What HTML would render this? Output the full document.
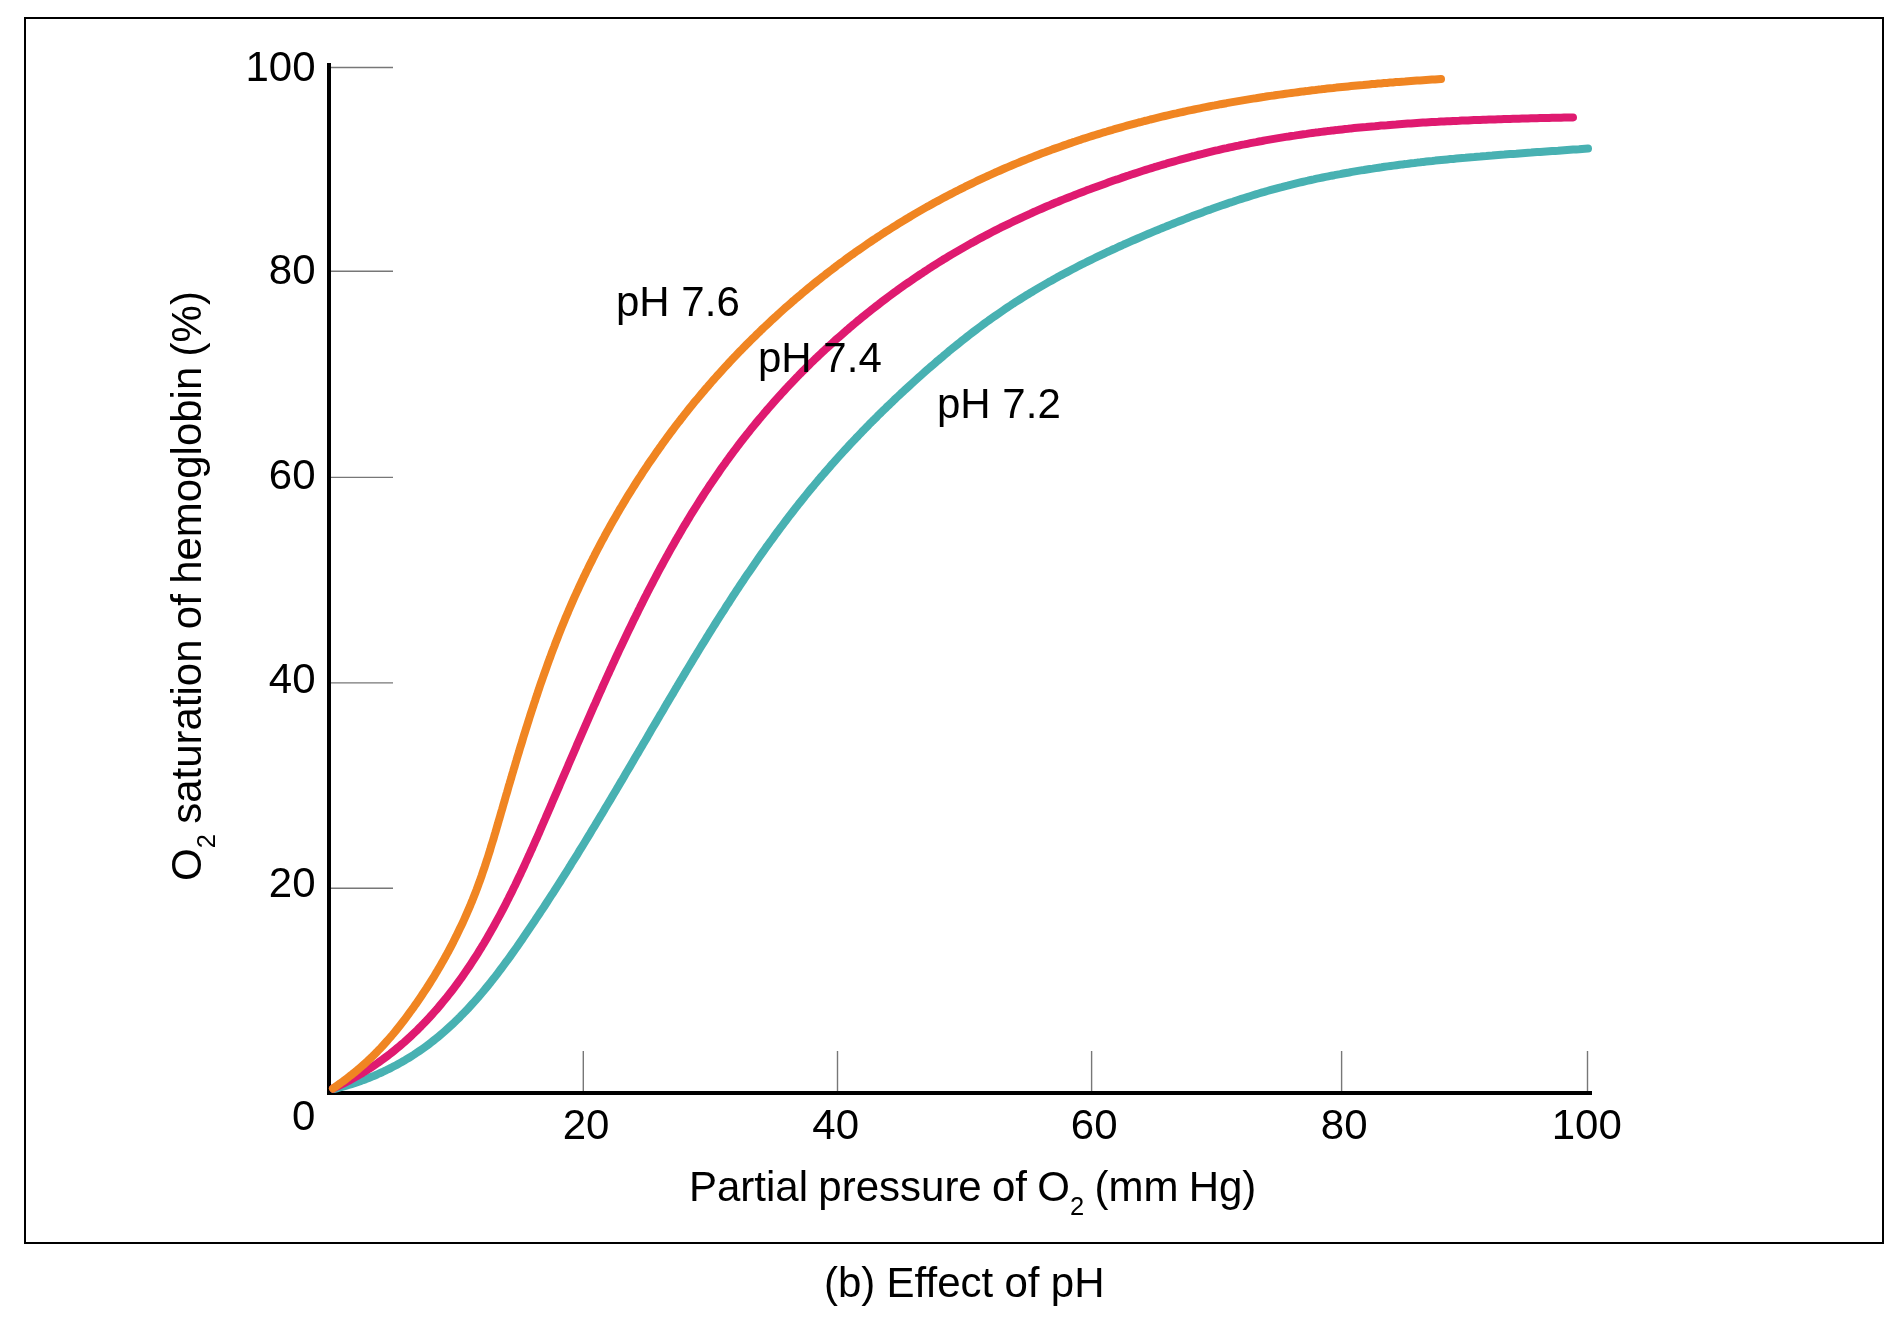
<!DOCTYPE html>
<html><head><meta charset="utf-8"><title>Effect of pH</title>
<style>
html,body{margin:0;padding:0;background:#fff;}
body{width:1900px;height:1317px;overflow:hidden;}
svg{display:block;will-change:transform;}
text{font-family:"Liberation Sans", sans-serif;font-size:42px;fill:#000;}
</style></head>
<body>
<svg width="1900" height="1317" viewBox="0 0 1900 1317">
<rect width="1900" height="1317" fill="#fff"/>
<rect x="25" y="18" width="1858" height="1225" fill="none" stroke="#000" stroke-width="2"/>
<line x1="331" y1="67.5" x2="393" y2="67.5" stroke="#777" stroke-width="1.4"/>
<line x1="331" y1="271.3" x2="393" y2="271.3" stroke="#777" stroke-width="1.4"/>
<line x1="331" y1="477.4" x2="393" y2="477.4" stroke="#777" stroke-width="1.4"/>
<line x1="331" y1="682.9" x2="393" y2="682.9" stroke="#777" stroke-width="1.4"/>
<line x1="331" y1="888.3" x2="393" y2="888.3" stroke="#777" stroke-width="1.4"/>
<line x1="583.3" y1="1051" x2="583.3" y2="1091" stroke="#777" stroke-width="1.4"/>
<line x1="837.5" y1="1051" x2="837.5" y2="1091" stroke="#777" stroke-width="1.4"/>
<line x1="1091.6" y1="1051" x2="1091.6" y2="1091" stroke="#777" stroke-width="1.4"/>
<line x1="1341.6" y1="1051" x2="1341.6" y2="1091" stroke="#777" stroke-width="1.4"/>
<line x1="1587.5" y1="1051" x2="1587.5" y2="1091" stroke="#777" stroke-width="1.4"/>
<rect x="327" y="63" width="4" height="1032" fill="#000"/>
<rect x="327" y="1091" width="1265" height="4" fill="#000"/>
<path d="M334.0 1089.0 L336.9 1088.3 L339.9 1087.5 L342.8 1086.7 L345.7 1085.9 L348.6 1085.0 L351.5 1084.1 L354.4 1083.2 L357.3 1082.2 L360.2 1081.2 L363.0 1080.1 L365.9 1079.1 L368.7 1078.0 L371.5 1076.8 L374.3 1075.7 L377.1 1074.5 L379.8 1073.2 L382.6 1072.0 L385.3 1070.7 L388.0 1069.3 L390.8 1068.0 L393.4 1066.6 L396.1 1065.2 L398.7 1063.7 L401.4 1062.3 L404.0 1060.8 L406.6 1059.2 L409.1 1057.7 L411.7 1056.1 L414.2 1054.5 L416.7 1052.8 L419.2 1051.1 L421.6 1049.4 L424.1 1047.7 L426.5 1046.0 L428.9 1044.2 L431.2 1042.4 L433.6 1040.5 L435.9 1038.7 L438.2 1036.8 L440.5 1034.9 L442.7 1033.0 L445.0 1031.0 L447.2 1029.0 L449.4 1027.0 L451.6 1025.0 L453.8 1023.0 L455.9 1020.9 L458.0 1018.9 L460.1 1016.8 L462.2 1014.6 L464.3 1012.5 L466.4 1010.4 L468.4 1008.2 L470.4 1006.0 L472.4 1003.8 L474.4 1001.6 L476.4 999.3 L478.4 997.1 L480.3 994.8 L482.3 992.5 L484.2 990.2 L486.1 987.9 L488.0 985.6 L489.9 983.3 L491.7 980.9 L493.6 978.5 L495.5 976.2 L497.3 973.8 L499.1 971.4 L500.9 969.0 L502.7 966.6 L504.5 964.2 L506.3 961.7 L508.1 959.3 L509.9 956.8 L511.6 954.4 L513.4 951.9 L515.1 949.5 L516.9 947.0 L518.6 944.5 L520.3 942.0 L522.0 939.6 L523.7 937.1 L525.4 934.6 L527.1 932.1 L528.8 929.6 L530.5 927.1 L532.2 924.6 L533.9 922.1 L535.5 919.6 L537.2 917.1 L538.9 914.5 L540.5 912.0 L542.2 909.5 L543.9 907.0 L545.5 904.5 L547.1 902.0 L548.8 899.4 L550.4 896.9 L552.0 894.4 L553.7 891.9 L555.3 889.3 L556.9 886.8 L558.5 884.3 L560.2 881.7 L561.8 879.2 L563.4 876.7 L565.0 874.1 L566.6 871.6 L568.2 869.0 L569.8 866.5 L571.3 863.9 L572.9 861.4 L574.5 858.9 L576.1 856.3 L577.7 853.8 L579.2 851.2 L580.8 848.6 L582.4 846.1 L584.0 843.5 L585.5 841.0 L587.1 838.4 L588.6 835.9 L590.2 833.3 L591.7 830.7 L593.3 828.2 L594.9 825.6 L596.4 823.0 L597.9 820.5 L599.5 817.9 L601.0 815.3 L602.6 812.8 L604.1 810.2 L605.6 807.6 L607.2 805.0 L608.7 802.5 L610.3 799.9 L611.8 797.3 L613.3 794.7 L614.8 792.2 L616.4 789.6 L617.9 787.0 L619.4 784.4 L620.9 781.9 L622.5 779.3 L624.0 776.7 L625.5 774.1 L627.0 771.5 L628.6 768.9 L630.1 766.4 L631.6 763.8 L633.1 761.2 L634.6 758.6 L636.1 756.0 L637.7 753.4 L639.2 750.8 L640.7 748.3 L642.2 745.7 L643.7 743.1 L645.3 740.5 L646.8 737.9 L648.3 735.3 L649.8 732.7 L651.3 730.1 L652.8 727.5 L654.4 724.9 L655.9 722.4 L657.4 719.8 L658.9 717.2 L660.4 714.6 L662.0 712.0 L663.5 709.4 L665.0 706.8 L666.5 704.2 L668.1 701.6 L669.6 699.0 L671.1 696.5 L672.7 693.9 L674.2 691.3 L675.7 688.7 L677.3 686.1 L678.8 683.5 L680.3 680.9 L681.9 678.4 L683.4 675.8 L685.0 673.2 L686.5 670.6 L688.1 668.0 L689.6 665.5 L691.2 662.9 L692.7 660.3 L694.3 657.7 L695.9 655.2 L697.4 652.6 L699.0 650.0 L700.5 647.5 L702.1 644.9 L703.7 642.3 L705.3 639.8 L706.9 637.2 L708.4 634.7 L710.0 632.1 L711.6 629.6 L713.2 627.0 L714.8 624.5 L716.4 621.9 L718.0 619.4 L719.6 616.9 L721.2 614.3 L722.9 611.8 L724.5 609.3 L726.1 606.7 L727.7 604.2 L729.4 601.7 L731.0 599.2 L732.6 596.6 L734.3 594.1 L735.9 591.6 L737.6 589.1 L739.2 586.6 L740.9 584.1 L742.6 581.6 L744.2 579.1 L745.9 576.6 L747.6 574.1 L749.3 571.7 L751.0 569.2 L752.7 566.7 L754.4 564.2 L756.1 561.8 L757.8 559.3 L759.5 556.8 L761.2 554.4 L763.0 551.9 L764.7 549.5 L766.4 547.0 L768.2 544.6 L769.9 542.2 L771.7 539.8 L773.5 537.3 L775.2 534.9 L777.0 532.5 L778.8 530.1 L780.6 527.7 L782.4 525.3 L784.2 522.9 L786.0 520.5 L787.8 518.1 L789.6 515.7 L791.5 513.4 L793.3 511.0 L795.1 508.6 L797.0 506.3 L798.8 503.9 L800.7 501.6 L802.6 499.2 L804.5 496.9 L806.3 494.6 L808.2 492.2 L810.1 489.9 L812.0 487.6 L814.0 485.3 L815.9 483.0 L817.8 480.7 L819.8 478.4 L821.7 476.1 L823.7 473.9 L825.6 471.6 L827.6 469.3 L829.6 467.1 L831.5 464.8 L833.5 462.6 L835.5 460.3 L837.5 458.1 L839.5 455.9 L841.6 453.6 L843.6 451.4 L845.6 449.2 L847.7 447.0 L849.7 444.8 L851.8 442.6 L853.8 440.4 L855.9 438.2 L858.0 436.1 L860.0 433.9 L862.1 431.7 L864.2 429.6 L866.3 427.4 L868.4 425.3 L870.5 423.1 L872.6 421.0 L874.8 418.9 L876.9 416.8 L879.0 414.6 L881.2 412.5 L883.3 410.4 L885.5 408.3 L887.6 406.2 L889.8 404.2 L892.0 402.1 L894.1 400.0 L896.3 397.9 L898.5 395.9 L900.7 393.8 L902.9 391.8 L905.1 389.7 L907.3 387.7 L909.5 385.7 L911.8 383.6 L914.0 381.6 L916.2 379.6 L918.5 377.6 L920.7 375.6 L922.9 373.6 L925.2 371.6 L927.5 369.6 L929.7 367.6 L932.0 365.7 L934.3 363.7 L936.5 361.7 L938.8 359.8 L941.1 357.9 L943.4 355.9 L945.7 354.0 L948.0 352.1 L950.3 350.1 L952.7 348.2 L955.0 346.3 L957.3 344.5 L959.7 342.6 L962.0 340.7 L964.4 338.8 L966.7 337.0 L969.1 335.1 L971.5 333.3 L973.8 331.5 L976.2 329.7 L978.6 327.9 L981.0 326.1 L983.4 324.3 L985.8 322.5 L988.3 320.8 L990.7 319.0 L993.1 317.3 L995.6 315.6 L998.0 313.9 L1000.5 312.2 L1003.0 310.5 L1005.4 308.8 L1007.9 307.1 L1010.4 305.5 L1012.9 303.8 L1015.4 302.2 L1017.9 300.6 L1020.5 299.0 L1023.0 297.4 L1025.5 295.8 L1028.1 294.3 L1030.6 292.7 L1033.2 291.2 L1035.8 289.6 L1038.3 288.1 L1040.9 286.6 L1043.5 285.1 L1046.1 283.6 L1048.7 282.1 L1051.3 280.7 L1053.9 279.2 L1056.5 277.8 L1059.1 276.3 L1061.8 274.9 L1064.4 273.5 L1067.1 272.1 L1069.7 270.7 L1072.4 269.3 L1075.0 267.9 L1077.7 266.5 L1080.3 265.2 L1083.0 263.8 L1085.7 262.5 L1088.4 261.1 L1091.1 259.8 L1093.8 258.5 L1096.5 257.2 L1099.2 255.9 L1101.9 254.6 L1104.6 253.3 L1107.3 252.0 L1110.0 250.8 L1112.8 249.5 L1115.5 248.3 L1118.2 247.0 L1121.0 245.8 L1123.7 244.5 L1126.4 243.3 L1129.2 242.1 L1131.9 240.9 L1134.7 239.7 L1137.5 238.5 L1140.2 237.3 L1143.0 236.1 L1145.8 234.9 L1148.5 233.8 L1151.3 232.6 L1154.1 231.4 L1156.9 230.3 L1159.6 229.1 L1162.4 228.0 L1165.2 226.9 L1168.0 225.7 L1170.8 224.6 L1173.6 223.5 L1176.4 222.4 L1179.2 221.3 L1182.0 220.2 L1184.8 219.1 L1187.6 218.0 L1190.4 216.9 L1193.2 215.8 L1196.0 214.8 L1198.9 213.7 L1201.7 212.7 L1204.5 211.6 L1207.3 210.6 L1210.2 209.6 L1213.0 208.5 L1215.8 207.5 L1218.7 206.5 L1221.5 205.5 L1224.3 204.6 L1227.2 203.6 L1230.0 202.6 L1232.9 201.7 L1235.7 200.7 L1238.6 199.8 L1241.4 198.9 L1244.3 198.0 L1247.2 197.1 L1250.0 196.2 L1252.9 195.3 L1255.8 194.4 L1258.7 193.5 L1261.5 192.7 L1264.4 191.9 L1267.3 191.0 L1270.2 190.2 L1273.1 189.4 L1276.0 188.6 L1278.8 187.8 L1281.7 187.1 L1284.6 186.3 L1287.5 185.6 L1290.5 184.8 L1293.4 184.1 L1296.3 183.4 L1299.2 182.7 L1302.1 182.0 L1305.0 181.3 L1307.9 180.7 L1310.9 180.0 L1313.8 179.4 L1316.7 178.7 L1319.6 178.1 L1322.6 177.5 L1325.5 176.9 L1328.4 176.3 L1331.4 175.7 L1334.3 175.2 L1337.3 174.6 L1340.2 174.1 L1343.2 173.5 L1346.1 173.0 L1349.1 172.5 L1352.0 171.9 L1355.0 171.4 L1357.9 170.9 L1360.9 170.4 L1363.8 170.0 L1366.8 169.5 L1369.8 169.0 L1372.7 168.6 L1375.7 168.1 L1378.7 167.7 L1381.6 167.3 L1384.6 166.8 L1387.6 166.4 L1390.6 166.0 L1393.5 165.6 L1396.5 165.2 L1399.5 164.8 L1402.5 164.4 L1405.4 164.1 L1408.4 163.7 L1411.4 163.3 L1414.4 163.0 L1417.4 162.6 L1420.4 162.3 L1423.4 161.9 L1426.3 161.6 L1429.3 161.3 L1432.3 161.0 L1435.3 160.6 L1438.3 160.3 L1441.3 160.0 L1444.3 159.7 L1447.3 159.4 L1450.3 159.1 L1453.3 158.9 L1456.3 158.6 L1459.3 158.3 L1462.3 158.0 L1465.3 157.8 L1468.3 157.5 L1471.2 157.2 L1474.2 157.0 L1477.2 156.7 L1480.2 156.5 L1483.2 156.2 L1486.2 156.0 L1489.2 155.7 L1492.2 155.5 L1495.2 155.2 L1498.2 155.0 L1501.2 154.8 L1504.2 154.6 L1507.2 154.3 L1510.2 154.1 L1513.2 153.9 L1516.2 153.7 L1519.2 153.4 L1522.2 153.2 L1525.2 153.0 L1528.2 152.8 L1531.2 152.6 L1534.2 152.3 L1537.2 152.1 L1540.2 151.9 L1543.2 151.7 L1546.2 151.5 L1549.2 151.3 L1552.2 151.1 L1555.2 150.9 L1558.1 150.7 L1561.1 150.4 L1564.1 150.2 L1567.1 150.0 L1570.1 149.8 L1573.1 149.6 L1576.1 149.4 L1579.1 149.2 L1582.0 148.9 L1585.0 148.7 L1588.0 148.5" fill="none" stroke="#48B1B2" stroke-width="8" stroke-linecap="round" stroke-linejoin="round"/>
<path d="M333.0 1088.5 L335.8 1087.2 L338.6 1085.9 L341.4 1084.5 L344.2 1083.1 L346.9 1081.7 L349.7 1080.3 L352.3 1078.8 L355.0 1077.3 L357.7 1075.8 L360.3 1074.2 L362.9 1072.7 L365.5 1071.1 L368.0 1069.5 L370.6 1067.8 L373.1 1066.2 L375.6 1064.5 L378.1 1062.8 L380.5 1061.0 L382.9 1059.3 L385.3 1057.5 L387.7 1055.7 L390.1 1053.9 L392.5 1052.0 L394.8 1050.1 L397.1 1048.2 L399.4 1046.3 L401.6 1044.4 L403.9 1042.5 L406.1 1040.5 L408.3 1038.5 L410.5 1036.5 L412.7 1034.4 L414.8 1032.4 L417.0 1030.3 L419.1 1028.2 L421.2 1026.1 L423.2 1024.0 L425.3 1021.9 L427.3 1019.7 L429.4 1017.5 L431.4 1015.3 L433.3 1013.1 L435.3 1010.9 L437.3 1008.7 L439.2 1006.4 L441.1 1004.1 L443.0 1001.8 L444.9 999.5 L446.8 997.2 L448.6 994.9 L450.5 992.5 L452.3 990.2 L454.1 987.8 L455.9 985.4 L457.7 983.0 L459.4 980.6 L461.2 978.2 L462.9 975.7 L464.6 973.3 L466.3 970.8 L468.0 968.3 L469.7 965.9 L471.3 963.4 L472.9 960.9 L474.6 958.3 L476.2 955.8 L477.8 953.3 L479.4 950.7 L481.0 948.2 L482.5 945.6 L484.1 943.1 L485.6 940.5 L487.1 937.9 L488.6 935.3 L490.1 932.7 L491.6 930.1 L493.1 927.5 L494.6 924.8 L496.0 922.2 L497.4 919.6 L498.9 916.9 L500.3 914.3 L501.7 911.6 L503.1 909.0 L504.5 906.3 L505.9 903.6 L507.2 900.9 L508.6 898.3 L509.9 895.6 L511.3 892.9 L512.6 890.2 L513.9 887.5 L515.3 884.8 L516.6 882.1 L517.9 879.3 L519.2 876.6 L520.5 873.9 L521.7 871.2 L523.0 868.5 L524.3 865.7 L525.5 863.0 L526.8 860.2 L528.0 857.5 L529.3 854.8 L530.5 852.0 L531.8 849.3 L533.0 846.5 L534.2 843.8 L535.4 841.0 L536.7 838.3 L537.9 835.5 L539.1 832.8 L540.3 830.0 L541.5 827.2 L542.7 824.5 L543.9 821.7 L545.1 819.0 L546.3 816.2 L547.5 813.4 L548.7 810.7 L549.9 807.9 L551.1 805.2 L552.2 802.4 L553.4 799.7 L554.6 796.9 L555.8 794.1 L557.0 791.4 L558.2 788.6 L559.4 785.9 L560.5 783.1 L561.7 780.4 L562.9 777.6 L564.1 774.8 L565.3 772.1 L566.5 769.3 L567.7 766.6 L568.8 763.8 L570.0 761.1 L571.2 758.3 L572.4 755.6 L573.6 752.8 L574.8 750.1 L576.0 747.3 L577.1 744.6 L578.3 741.8 L579.5 739.1 L580.7 736.3 L581.9 733.6 L583.1 730.8 L584.3 728.1 L585.5 725.3 L586.7 722.6 L587.9 719.8 L589.1 717.1 L590.3 714.4 L591.5 711.6 L592.7 708.9 L593.9 706.1 L595.2 703.4 L596.4 700.6 L597.6 697.9 L598.8 695.1 L600.0 692.4 L601.3 689.7 L602.5 686.9 L603.7 684.2 L605.0 681.4 L606.2 678.7 L607.4 676.0 L608.7 673.2 L609.9 670.5 L611.2 667.8 L612.4 665.0 L613.7 662.3 L614.9 659.6 L616.2 656.8 L617.5 654.1 L618.7 651.4 L620.0 648.6 L621.3 645.9 L622.6 643.2 L623.9 640.5 L625.2 637.7 L626.5 635.0 L627.8 632.3 L629.1 629.6 L630.4 626.9 L631.7 624.2 L633.0 621.5 L634.3 618.8 L635.7 616.1 L637.0 613.4 L638.3 610.7 L639.7 608.0 L641.0 605.3 L642.4 602.6 L643.7 599.9 L645.1 597.2 L646.5 594.5 L647.8 591.8 L649.2 589.2 L650.6 586.5 L652.0 583.8 L653.4 581.2 L654.8 578.5 L656.2 575.8 L657.6 573.2 L659.0 570.5 L660.4 567.9 L661.9 565.2 L663.3 562.6 L664.8 559.9 L666.2 557.3 L667.7 554.7 L669.1 552.1 L670.6 549.4 L672.1 546.8 L673.6 544.2 L675.1 541.6 L676.5 539.0 L678.1 536.4 L679.6 533.8 L681.1 531.2 L682.6 528.6 L684.1 526.0 L685.7 523.5 L687.2 520.9 L688.8 518.3 L690.3 515.8 L691.9 513.2 L693.5 510.6 L695.1 508.1 L696.7 505.6 L698.3 503.0 L699.9 500.5 L701.5 498.0 L703.1 495.5 L704.8 492.9 L706.4 490.4 L708.1 487.9 L709.7 485.4 L711.4 483.0 L713.1 480.5 L714.8 478.0 L716.5 475.5 L718.2 473.1 L719.9 470.6 L721.6 468.1 L723.3 465.7 L725.1 463.3 L726.8 460.8 L728.6 458.4 L730.3 456.0 L732.1 453.6 L733.9 451.2 L735.7 448.8 L737.5 446.4 L739.3 444.0 L741.2 441.6 L743.0 439.3 L744.8 436.9 L746.7 434.5 L748.6 432.2 L750.4 429.9 L752.3 427.5 L754.2 425.2 L756.1 422.9 L758.0 420.6 L759.9 418.3 L761.9 416.0 L763.8 413.7 L765.8 411.4 L767.7 409.1 L769.7 406.9 L771.7 404.6 L773.6 402.4 L775.6 400.1 L777.6 397.9 L779.6 395.7 L781.7 393.4 L783.7 391.2 L785.7 389.0 L787.8 386.8 L789.8 384.6 L791.9 382.5 L794.0 380.3 L796.0 378.1 L798.1 376.0 L800.2 373.8 L802.3 371.7 L804.4 369.6 L806.6 367.4 L808.7 365.3 L810.8 363.2 L813.0 361.1 L815.1 359.0 L817.3 357.0 L819.5 354.9 L821.7 352.8 L823.9 350.8 L826.1 348.7 L828.3 346.7 L830.5 344.7 L832.7 342.7 L834.9 340.6 L837.2 338.6 L839.4 336.7 L841.7 334.7 L843.9 332.7 L846.2 330.7 L848.5 328.8 L850.7 326.8 L853.0 324.9 L855.3 323.0 L857.6 321.0 L860.0 319.1 L862.3 317.2 L864.6 315.3 L867.0 313.4 L869.3 311.6 L871.7 309.7 L874.0 307.9 L876.4 306.0 L878.8 304.2 L881.1 302.3 L883.5 300.5 L885.9 298.7 L888.3 296.9 L890.7 295.1 L893.2 293.3 L895.6 291.6 L898.0 289.8 L900.4 288.1 L902.9 286.3 L905.3 284.6 L907.8 282.9 L910.3 281.2 L912.7 279.5 L915.2 277.8 L917.7 276.1 L920.2 274.4 L922.7 272.8 L925.2 271.1 L927.7 269.5 L930.2 267.8 L932.8 266.2 L935.3 264.6 L937.8 263.0 L940.4 261.4 L942.9 259.8 L945.5 258.3 L948.1 256.7 L950.6 255.1 L953.2 253.6 L955.8 252.1 L958.4 250.6 L961.0 249.1 L963.6 247.6 L966.2 246.1 L968.8 244.6 L971.4 243.1 L974.1 241.7 L976.7 240.2 L979.3 238.8 L982.0 237.4 L984.6 236.0 L987.3 234.6 L989.9 233.2 L992.6 231.8 L995.3 230.4 L998.0 229.1 L1000.6 227.7 L1003.3 226.4 L1006.0 225.1 L1008.7 223.8 L1011.4 222.5 L1014.1 221.2 L1016.9 219.9 L1019.6 218.6 L1022.3 217.3 L1025.0 216.1 L1027.8 214.8 L1030.5 213.6 L1033.2 212.3 L1036.0 211.1 L1038.7 209.9 L1041.5 208.7 L1044.2 207.5 L1047.0 206.3 L1049.8 205.2 L1052.5 204.0 L1055.3 202.8 L1058.1 201.7 L1060.9 200.5 L1063.7 199.4 L1066.5 198.3 L1069.2 197.2 L1072.0 196.1 L1074.8 195.0 L1077.6 193.9 L1080.5 192.8 L1083.3 191.7 L1086.1 190.6 L1088.9 189.6 L1091.7 188.5 L1094.5 187.5 L1097.4 186.4 L1100.2 185.4 L1103.0 184.4 L1105.8 183.4 L1108.7 182.3 L1111.5 181.3 L1114.3 180.3 L1117.2 179.4 L1120.0 178.4 L1122.9 177.4 L1125.7 176.4 L1128.6 175.5 L1131.4 174.5 L1134.3 173.6 L1137.1 172.7 L1140.0 171.7 L1142.9 170.8 L1145.7 169.9 L1148.6 169.0 L1151.5 168.1 L1154.3 167.2 L1157.2 166.4 L1160.1 165.5 L1163.0 164.6 L1165.9 163.8 L1168.7 162.9 L1171.6 162.1 L1174.5 161.3 L1177.4 160.5 L1180.3 159.7 L1183.2 158.9 L1186.1 158.1 L1189.0 157.3 L1191.9 156.5 L1194.8 155.8 L1197.7 155.0 L1200.6 154.3 L1203.5 153.6 L1206.4 152.8 L1209.3 152.1 L1212.3 151.4 L1215.2 150.7 L1218.1 150.1 L1221.0 149.4 L1223.9 148.7 L1226.9 148.1 L1229.8 147.4 L1232.7 146.8 L1235.6 146.2 L1238.6 145.6 L1241.5 144.9 L1244.4 144.4 L1247.4 143.8 L1250.3 143.2 L1253.3 142.6 L1256.2 142.1 L1259.1 141.5 L1262.1 141.0 L1265.0 140.4 L1268.0 139.9 L1270.9 139.4 L1273.9 138.9 L1276.8 138.4 L1279.8 137.9 L1282.8 137.4 L1285.7 136.9 L1288.7 136.5 L1291.6 136.0 L1294.6 135.6 L1297.6 135.1 L1300.5 134.7 L1303.5 134.3 L1306.5 133.9 L1309.4 133.4 L1312.4 133.0 L1315.4 132.6 L1318.3 132.3 L1321.3 131.9 L1324.3 131.5 L1327.3 131.1 L1330.2 130.8 L1333.2 130.4 L1336.2 130.1 L1339.2 129.7 L1342.2 129.4 L1345.1 129.1 L1348.1 128.8 L1351.1 128.4 L1354.1 128.1 L1357.1 127.8 L1360.1 127.5 L1363.0 127.2 L1366.0 127.0 L1369.0 126.7 L1372.0 126.4 L1375.0 126.2 L1378.0 125.9 L1381.0 125.6 L1384.0 125.4 L1387.0 125.2 L1390.0 124.9 L1393.0 124.7 L1396.0 124.5 L1399.0 124.2 L1402.0 124.0 L1405.0 123.8 L1407.9 123.6 L1410.9 123.4 L1413.9 123.2 L1416.9 123.0 L1419.9 122.8 L1422.9 122.6 L1425.9 122.5 L1428.9 122.3 L1431.9 122.1 L1434.9 121.9 L1438.0 121.8 L1441.0 121.6 L1444.0 121.5 L1447.0 121.3 L1450.0 121.2 L1453.0 121.0 L1456.0 120.9 L1459.0 120.8 L1462.0 120.6 L1465.0 120.5 L1468.0 120.4 L1471.0 120.2 L1474.0 120.1 L1477.0 120.0 L1480.0 119.9 L1483.0 119.8 L1486.0 119.7 L1489.0 119.6 L1492.0 119.5 L1495.0 119.4 L1498.0 119.3 L1501.0 119.2 L1504.0 119.1 L1507.0 119.0 L1510.0 118.9 L1513.0 118.8 L1516.0 118.7 L1519.0 118.7 L1522.0 118.6 L1525.0 118.5 L1528.0 118.4 L1531.0 118.3 L1534.0 118.3 L1537.0 118.2 L1540.0 118.1 L1543.0 118.1 L1546.0 118.0 L1549.0 117.9 L1552.0 117.8 L1555.0 117.8 L1558.0 117.7 L1561.0 117.7 L1564.0 117.6 L1567.0 117.5 L1570.0 117.5 L1573.0 117.4" fill="none" stroke="#DF1A70" stroke-width="8" stroke-linecap="round" stroke-linejoin="round"/>
<path d="M333.0 1088.5 L335.4 1086.8 L337.9 1085.0 L340.3 1083.2 L342.8 1081.5 L345.2 1079.7 L347.6 1077.9 L349.9 1076.0 L352.3 1074.2 L354.6 1072.3 L357.0 1070.4 L359.2 1068.5 L361.5 1066.5 L363.7 1064.6 L366.0 1062.6 L368.1 1060.5 L370.3 1058.5 L372.5 1056.4 L374.6 1054.3 L376.7 1052.2 L378.7 1050.1 L380.8 1047.9 L382.8 1045.7 L384.8 1043.5 L386.8 1041.3 L388.8 1039.0 L390.7 1036.8 L392.7 1034.5 L394.6 1032.2 L396.5 1029.9 L398.4 1027.5 L400.2 1025.2 L402.1 1022.8 L403.9 1020.5 L405.7 1018.1 L407.5 1015.7 L409.3 1013.2 L411.0 1010.8 L412.8 1008.4 L414.5 1005.9 L416.3 1003.5 L418.0 1001.0 L419.7 998.5 L421.4 996.0 L423.0 993.5 L424.7 991.0 L426.4 988.5 L428.0 986.0 L429.6 983.5 L431.2 980.9 L432.8 978.3 L434.4 975.8 L435.9 973.2 L437.5 970.6 L439.0 968.0 L440.5 965.4 L442.0 962.8 L443.5 960.2 L445.0 957.6 L446.4 954.9 L447.9 952.3 L449.3 949.6 L450.7 947.0 L452.1 944.3 L453.5 941.6 L454.8 938.9 L456.2 936.2 L457.5 933.5 L458.8 930.8 L460.1 928.1 L461.4 925.4 L462.7 922.7 L464.0 919.9 L465.2 917.2 L466.4 914.4 L467.6 911.7 L468.8 908.9 L470.0 906.2 L471.1 903.4 L472.3 900.6 L473.4 897.8 L474.5 895.0 L475.6 892.2 L476.7 889.4 L477.7 886.6 L478.7 883.8 L479.8 881.0 L480.8 878.1 L481.8 875.3 L482.7 872.5 L483.7 869.6 L484.7 866.8 L485.6 864.0 L486.5 861.1 L487.5 858.2 L488.4 855.4 L489.3 852.5 L490.2 849.7 L491.0 846.8 L491.9 843.9 L492.8 841.1 L493.7 838.2 L494.5 835.3 L495.4 832.4 L496.2 829.6 L497.0 826.7 L497.9 823.8 L498.7 820.9 L499.6 818.0 L500.4 815.2 L501.2 812.3 L502.1 809.4 L502.9 806.5 L503.7 803.6 L504.6 800.7 L505.4 797.8 L506.2 795.0 L507.1 792.1 L507.9 789.2 L508.7 786.3 L509.6 783.4 L510.4 780.6 L511.3 777.7 L512.1 774.8 L513.0 771.9 L513.8 769.0 L514.7 766.2 L515.5 763.3 L516.4 760.4 L517.2 757.5 L518.1 754.6 L519.0 751.8 L519.8 748.9 L520.7 746.0 L521.6 743.2 L522.5 740.3 L523.3 737.4 L524.2 734.5 L525.1 731.7 L526.0 728.8 L526.9 726.0 L527.8 723.1 L528.7 720.2 L529.6 717.4 L530.5 714.5 L531.4 711.7 L532.4 708.8 L533.3 706.0 L534.2 703.1 L535.2 700.3 L536.1 697.4 L537.1 694.6 L538.0 691.7 L539.0 688.9 L539.9 686.0 L540.9 683.2 L541.9 680.4 L542.9 677.5 L543.9 674.7 L544.9 671.9 L545.9 669.1 L546.9 666.2 L547.9 663.4 L548.9 660.6 L550.0 657.8 L551.0 655.0 L552.0 652.2 L553.1 649.4 L554.2 646.6 L555.2 643.8 L556.3 641.0 L557.4 638.2 L558.5 635.4 L559.6 632.6 L560.7 629.8 L561.8 627.0 L563.0 624.2 L564.1 621.5 L565.2 618.7 L566.4 615.9 L567.6 613.2 L568.7 610.4 L569.9 607.7 L571.1 604.9 L572.3 602.1 L573.5 599.4 L574.7 596.7 L576.0 593.9 L577.2 591.2 L578.5 588.5 L579.7 585.7 L581.0 583.0 L582.3 580.3 L583.5 577.6 L584.8 574.9 L586.1 572.2 L587.5 569.5 L588.8 566.8 L590.1 564.1 L591.5 561.4 L592.8 558.7 L594.2 556.0 L595.5 553.3 L596.9 550.7 L598.3 548.0 L599.7 545.3 L601.1 542.7 L602.5 540.0 L604.0 537.4 L605.4 534.7 L606.8 532.1 L608.3 529.5 L609.8 526.8 L611.2 524.2 L612.7 521.6 L614.2 519.0 L615.7 516.4 L617.2 513.8 L618.7 511.2 L620.2 508.6 L621.8 506.0 L623.3 503.4 L624.9 500.8 L626.4 498.3 L628.0 495.7 L629.6 493.1 L631.2 490.6 L632.8 488.0 L634.4 485.5 L636.0 482.9 L637.6 480.4 L639.2 477.9 L640.9 475.4 L642.5 472.8 L644.2 470.3 L645.9 467.8 L647.5 465.3 L649.2 462.8 L650.9 460.4 L652.6 457.9 L654.3 455.4 L656.0 452.9 L657.8 450.5 L659.5 448.0 L661.3 445.6 L663.0 443.1 L664.8 440.7 L666.5 438.3 L668.3 435.8 L670.1 433.4 L671.9 431.0 L673.7 428.6 L675.5 426.2 L677.3 423.8 L679.2 421.5 L681.0 419.1 L682.9 416.7 L684.7 414.3 L686.6 412.0 L688.5 409.6 L690.3 407.3 L692.2 405.0 L694.1 402.6 L696.0 400.3 L698.0 398.0 L699.9 395.7 L701.8 393.4 L703.8 391.1 L705.7 388.8 L707.7 386.6 L709.6 384.3 L711.6 382.0 L713.6 379.8 L715.6 377.5 L717.6 375.3 L719.6 373.1 L721.6 370.8 L723.6 368.6 L725.6 366.4 L727.7 364.2 L729.7 362.0 L731.8 359.8 L733.8 357.6 L735.9 355.5 L738.0 353.3 L740.1 351.1 L742.2 349.0 L744.3 346.8 L746.4 344.7 L748.5 342.6 L750.6 340.5 L752.7 338.4 L754.9 336.3 L757.0 334.2 L759.2 332.1 L761.3 330.0 L763.5 327.9 L765.7 325.9 L767.9 323.8 L770.0 321.8 L772.2 319.7 L774.4 317.7 L776.7 315.7 L778.9 313.6 L781.1 311.6 L783.3 309.6 L785.6 307.6 L787.8 305.7 L790.1 303.7 L792.3 301.7 L794.6 299.8 L796.9 297.8 L799.2 295.9 L801.5 293.9 L803.8 292.0 L806.1 290.1 L808.4 288.2 L810.7 286.3 L813.0 284.4 L815.4 282.5 L817.7 280.6 L820.0 278.8 L822.4 276.9 L824.8 275.1 L827.1 273.2 L829.5 271.4 L831.9 269.6 L834.3 267.8 L836.6 265.9 L839.0 264.1 L841.5 262.4 L843.9 260.6 L846.3 258.8 L848.7 257.0 L851.1 255.3 L853.6 253.6 L856.0 251.8 L858.5 250.1 L860.9 248.4 L863.4 246.7 L865.9 245.0 L868.3 243.3 L870.8 241.6 L873.3 239.9 L875.8 238.3 L878.3 236.6 L880.8 235.0 L883.3 233.3 L885.8 231.7 L888.4 230.1 L890.9 228.5 L893.4 226.9 L896.0 225.3 L898.5 223.7 L901.1 222.1 L903.6 220.6 L906.2 219.0 L908.8 217.5 L911.4 215.9 L913.9 214.4 L916.5 212.9 L919.1 211.4 L921.7 209.9 L924.3 208.4 L926.9 206.9 L929.6 205.5 L932.2 204.0 L934.8 202.5 L937.5 201.1 L940.1 199.7 L942.7 198.3 L945.4 196.9 L948.0 195.5 L950.7 194.1 L953.4 192.7 L956.0 191.3 L958.7 190.0 L961.4 188.6 L964.1 187.3 L966.8 185.9 L969.5 184.6 L972.2 183.3 L974.9 182.0 L977.6 180.7 L980.3 179.4 L983.1 178.1 L985.8 176.9 L988.5 175.6 L991.3 174.4 L994.0 173.2 L996.7 171.9 L999.5 170.7 L1002.2 169.5 L1005.0 168.3 L1007.8 167.1 L1010.5 166.0 L1013.3 164.8 L1016.1 163.6 L1018.9 162.5 L1021.7 161.3 L1024.4 160.2 L1027.2 159.1 L1030.0 158.0 L1032.8 156.9 L1035.6 155.8 L1038.4 154.7 L1041.3 153.6 L1044.1 152.6 L1046.9 151.5 L1049.7 150.5 L1052.5 149.4 L1055.4 148.4 L1058.2 147.4 L1061.0 146.4 L1063.9 145.4 L1066.7 144.4 L1069.6 143.4 L1072.4 142.4 L1075.3 141.5 L1078.1 140.5 L1081.0 139.6 L1083.8 138.6 L1086.7 137.7 L1089.6 136.8 L1092.4 135.9 L1095.3 135.0 L1098.2 134.1 L1101.1 133.2 L1103.9 132.3 L1106.8 131.5 L1109.7 130.6 L1112.6 129.8 L1115.5 128.9 L1118.4 128.1 L1121.2 127.3 L1124.1 126.5 L1127.0 125.7 L1129.9 124.9 L1132.8 124.1 L1135.7 123.3 L1138.6 122.5 L1141.5 121.8 L1144.4 121.0 L1147.3 120.3 L1150.3 119.5 L1153.2 118.8 L1156.1 118.1 L1159.0 117.4 L1161.9 116.7 L1164.8 116.0 L1167.7 115.3 L1170.7 114.6 L1173.6 113.9 L1176.5 113.3 L1179.4 112.6 L1182.4 112.0 L1185.3 111.3 L1188.2 110.7 L1191.1 110.1 L1194.1 109.5 L1197.0 108.9 L1199.9 108.3 L1202.9 107.7 L1205.8 107.1 L1208.8 106.5 L1211.7 105.9 L1214.6 105.4 L1217.6 104.8 L1220.5 104.2 L1223.5 103.7 L1226.4 103.2 L1229.4 102.6 L1232.3 102.1 L1235.3 101.6 L1238.2 101.1 L1241.2 100.6 L1244.1 100.1 L1247.1 99.6 L1250.0 99.1 L1253.0 98.6 L1255.9 98.2 L1258.9 97.7 L1261.9 97.2 L1264.8 96.8 L1267.8 96.3 L1270.7 95.9 L1273.7 95.5 L1276.7 95.0 L1279.6 94.6 L1282.6 94.2 L1285.6 93.8 L1288.5 93.4 L1291.5 93.0 L1294.5 92.6 L1297.5 92.2 L1300.4 91.8 L1303.4 91.4 L1306.4 91.1 L1309.4 90.7 L1312.3 90.3 L1315.3 90.0 L1318.3 89.6 L1321.3 89.3 L1324.3 88.9 L1327.2 88.6 L1330.2 88.3 L1333.2 88.0 L1336.2 87.6 L1339.2 87.3 L1342.2 87.0 L1345.1 86.7 L1348.1 86.4 L1351.1 86.1 L1354.1 85.8 L1357.1 85.5 L1360.1 85.2 L1363.1 85.0 L1366.1 84.7 L1369.1 84.4 L1372.0 84.1 L1375.0 83.9 L1378.0 83.6 L1381.0 83.4 L1384.0 83.1 L1387.0 82.9 L1390.0 82.6 L1393.0 82.4 L1396.0 82.1 L1399.0 81.9 L1402.0 81.7 L1405.0 81.5 L1408.0 81.2 L1411.0 81.0 L1414.0 80.8 L1417.0 80.6 L1420.0 80.4 L1423.0 80.2 L1426.0 80.0 L1429.0 79.8 L1432.0 79.6 L1435.0 79.4 L1438.0 79.2 L1441.0 79.0" fill="none" stroke="#F08522" stroke-width="8" stroke-linecap="round" stroke-linejoin="round"/>
<g>
<text x="315.5" y="80.5" text-anchor="end">100</text>
<text x="315.5" y="284.2" text-anchor="end">80</text>
<text x="315.5" y="489.2" text-anchor="end">60</text>
<text x="315.5" y="693.2" text-anchor="end">40</text>
<text x="315.5" y="896.7" text-anchor="end">20</text>
<text x="315.4" y="1130.3" text-anchor="end">0</text>
<text x="586.0" y="1139.0" text-anchor="middle">20</text>
<text x="835.7" y="1139.0" text-anchor="middle">40</text>
<text x="1094.2" y="1139.0" text-anchor="middle">60</text>
<text x="1344.2" y="1139.0" text-anchor="middle">80</text>
<text x="1586.8" y="1139.0" text-anchor="middle">100</text>
<text x="689" y="1201" word-spacing="-1.4">Partial pressure of O<tspan font-size="25.5" dy="14">2</tspan><tspan dy="-14"> (mm Hg)</tspan></text>
<text transform="translate(201,881) rotate(-90)" x="0" y="0" word-spacing="-1.4">O<tspan font-size="25.5" dy="14">2</tspan><tspan dy="-14"> saturation of hemoglobin (%)</tspan></text>
<text x="824" y="1297.3" word-spacing="-0.4">(b) Effect of pH</text>
<text x="616" y="316.1">pH 7.6</text>
<text x="758" y="371.8">pH 7.4</text>
<text x="937" y="417.9">pH 7.2</text>
</g>
</svg>
</body></html>
